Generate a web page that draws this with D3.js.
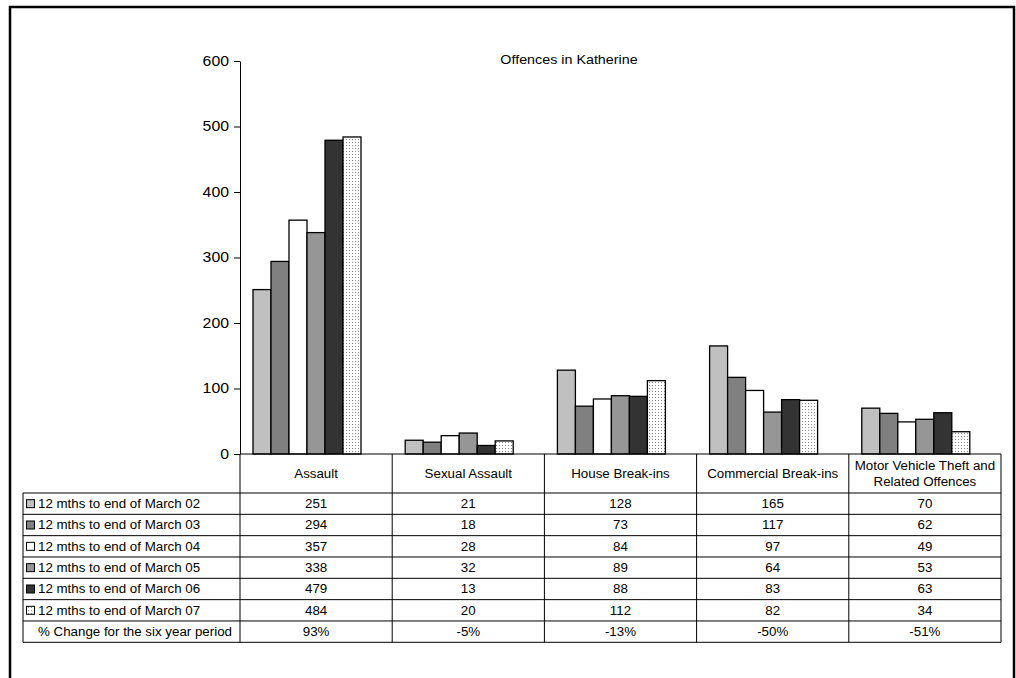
<!DOCTYPE html>
<html>
<head>
<meta charset="utf-8">
<script src="https://cdn.jsdelivr.net/npm/d3@7"></script>
<style>
  body { margin: 0; background: #fff; }
  svg { display: block; font-family: "Liberation Sans", Arial, sans-serif; }
</style>
</head>
<body>
<svg id="chart" width="1016" height="678"></svg>
<script>
const title = "Offences in Katherine";
const categories = ["Assault", "Sexual Assault", "House Break-ins", "Commercial Break-ins", "Motor Vehicle Theft and\nRelated Offences"];
const seriesNames = ["12 mths to end of March 02", "12 mths to end of March 03", "12 mths to end of March 04", "12 mths to end of March 05", "12 mths to end of March 06", "12 mths to end of March 07"];
const mar02 = [251, 21, 128, 165, 70];
const mar03 = [294, 18, 73, 117, 62];
const mar04 = [357, 28, 84, 97, 49];
const mar05 = [338, 32, 89, 64, 53];
const mar06 = [479, 13, 88, 83, 63];
const mar07 = [484, 20, 112, 82, 34];
const pctChangeLabel = "% Change for the six year period";
const pctChange = ["93%", "-5%", "-13%", "-50%", "-51%"];
const yTicks = [0, 100, 200, 300, 400, 500, 600];

const seriesValues = [mar02, mar03, mar04, mar05, mar06, mar07];
const seriesFills = ["#c0c0c0", "#808080", "#ffffff", "#969696", "#333333", "url(#dots)"];

const svg = d3.select("#chart");
const defs = svg.append("defs");
const pat = defs.append("pattern").attr("id", "dots").attr("patternUnits", "userSpaceOnUse")
  .attr("width", 3).attr("height", 3);
pat.append("rect").attr("width", 3).attr("height", 3).attr("fill", "#ffffff");
pat.append("rect").attr("x", 1).attr("y", 1).attr("width", 1).attr("height", 1).attr("fill", "#888");

// stretch helper: widen text horizontally like the reference rendering
function stretch(sel, k) {
  sel.each(function () {
    const len = this.getComputedTextLength();
    if (len > 0) d3.select(this).attr("textLength", len * k).attr("lengthAdjust", "spacingAndGlyphs");
  });
}

// outer border
svg.append("rect").attr("x", 10).attr("y", 7).attr("width", 1004).attr("height", 700)
  .attr("fill", "none").attr("stroke", "#000").attr("stroke-width", 2.5);

const plotLeft = 240, plotRight = 1001, plotTop = 61, plotBottom = 454;
const tableLeft = 23;
const headerH = 39, rowH = 21.33;

const x = d3.scaleBand().domain(categories).range([plotLeft, plotRight]).padding(0);
const y = d3.scaleLinear().domain([0, 600]).range([plotBottom, plotTop]);
const xs = d3.scaleBand().domain(d3.range(seriesNames.length)).range([13, 13 + 108]).padding(0);

// title
const t = svg.append("text").attr("x", 569).attr("y", 64).attr("text-anchor", "middle")
  .attr("font-size", 13).attr("fill", "#000").text(title);
stretch(t, 1.1);

// y axis
const yAxis = d3.axisLeft(y).tickValues(yTicks).tickSize(6).tickPadding(5).tickSizeOuter(0);
const gy = svg.append("g").attr("transform", `translate(${plotLeft},0)`).call(yAxis);
gy.selectAll("text").attr("font-size", 14).attr("font-family", "Liberation Sans, Arial, sans-serif").attr("fill", "#000");
stretch(gy.selectAll("text"), 1.13);
gy.selectAll("line").attr("stroke", "#000");
gy.select(".domain").attr("stroke", "#000");

// bars
seriesValues.forEach((vals, si) => {
  svg.append("g").selectAll("rect").data(vals).join("rect")
    .attr("x", (d, i) => x(categories[i]) + xs(si))
    .attr("y", d => y(d))
    .attr("width", xs.bandwidth())
    .attr("height", d => y(0) - y(d))
    .attr("fill", seriesFills[si])
    .attr("stroke", "#000").attr("stroke-width", 1.3);
});

// x axis line
svg.append("line").attr("x1", plotLeft).attr("x2", plotRight).attr("y1", plotBottom).attr("y2", plotBottom)
  .attr("stroke", "#000").attr("stroke-width", 1.2);

// table
const tbl = svg.append("g").attr("stroke", "#000").attr("stroke-width", 1);
const nRows = seriesNames.length + 1;
const tableTop = plotBottom + headerH;
const tableBottom = tableTop + nRows * rowH;
d3.range(nRows + 1).forEach(r => {
  tbl.append("line").attr("x1", tableLeft).attr("x2", plotRight)
    .attr("y1", tableTop + r * rowH).attr("y2", tableTop + r * rowH);
});
tbl.append("line").attr("x1", tableLeft).attr("x2", tableLeft).attr("y1", tableTop).attr("y2", tableBottom);
categories.forEach(c => {
  tbl.append("line").attr("x1", x(c)).attr("x2", x(c)).attr("y1", plotBottom).attr("y2", tableBottom);
});
tbl.append("line").attr("x1", plotRight).attr("x2", plotRight).attr("y1", plotBottom).attr("y2", tableBottom);

const texts = svg.append("g").attr("font-size", 12).attr("fill", "#000");

// header labels
categories.forEach(c => {
  const lines = c.split("\n");
  const cx = x(c) + x.bandwidth() / 2;
  const cy = plotBottom + headerH / 2;
  lines.forEach((ln, li) => {
    texts.append("text").attr("x", cx)
      .attr("y", cy + (li - (lines.length - 1) / 2) * 16 + 4.5)
      .attr("text-anchor", "middle").text(ln);
  });
});

// rows
seriesNames.forEach((name, si) => {
  const ry = tableTop + si * rowH;
  svg.append("rect").attr("x", 26.5).attr("y", ry + rowH / 2 - 4).attr("width", 8).attr("height", 8)
    .attr("fill", seriesFills[si]).attr("stroke", "#000").attr("stroke-width", 1);
  texts.append("text").attr("x", 38).attr("y", ry + rowH / 2 + 4.5).text(name);
  seriesValues[si].forEach((v, ci) => {
    texts.append("text").attr("x", x(categories[ci]) + x.bandwidth() / 2).attr("y", ry + rowH / 2 + 4.5)
      .attr("text-anchor", "middle").text(v);
  });
});
const py = tableTop + seriesNames.length * rowH;
texts.append("text").attr("x", 38).attr("y", py + rowH / 2 + 4.5).text(pctChangeLabel);
pctChange.forEach((v, ci) => {
  texts.append("text").attr("x", x(categories[ci]) + x.bandwidth() / 2).attr("y", py + rowH / 2 + 4.5)
    .attr("text-anchor", "middle").text(v);
});
stretch(texts.selectAll("text"), 1.11);
</script>
</body>
</html>
